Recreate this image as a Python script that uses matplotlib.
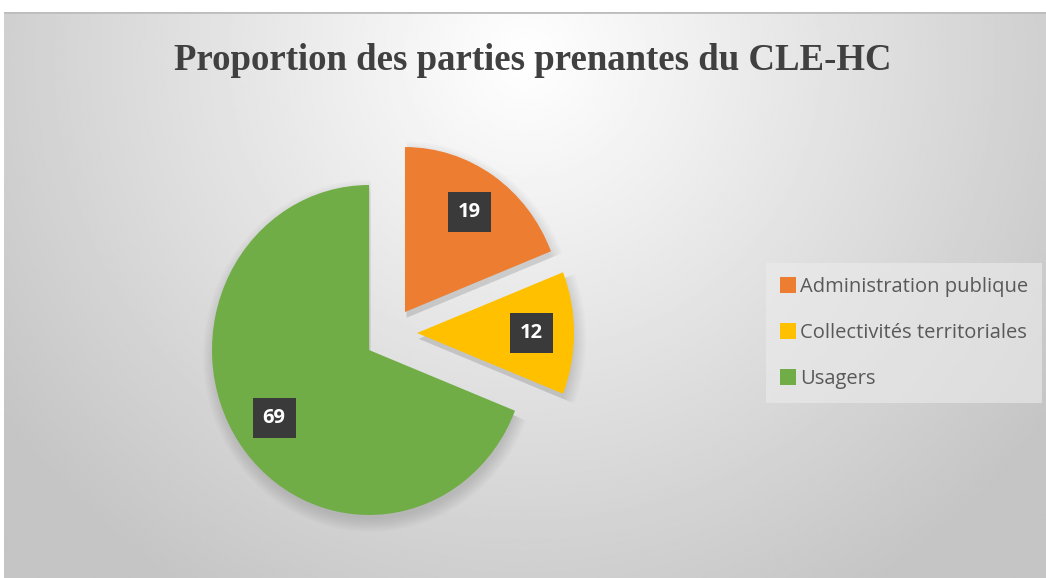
import numpy as np
import matplotlib
matplotlib.use("Agg")
import matplotlib.pyplot as plt
from matplotlib.patches import Wedge

# ---- data ----
categories = ["Administration publique", "Collectivités territoriales", "Usagers"]
values = [19, 12, 69]
colors = ["#ED7D31", "#FFC000", "#70AD47"]
title = "Proportion des parties prenantes du CLE-HC"

# ---- figure ----
W, H = 1046, 578
fig = plt.figure(figsize=(W / 100, H / 100), dpi=100, facecolor="white")

# chart-area background with radial gradient
x0 = 4
bg = fig.add_axes([x0 / W, 0, (W - x0) / W, (H - 12) / H])
bg.set_axis_off()
gx, gy = np.meshgrid(np.linspace(0, 1, 400), np.linspace(0, 1, 250))
cx, cy = 0.5, 0.08  # gy=0 top
d = np.sqrt(((gx - cx) / 0.58) ** 2 + ((gy - cy) / 1.05) ** 2)
val = np.clip(255 - 55 * d, 197, 255) / 255.0
bg.imshow(val, cmap="gray", vmin=0, vmax=1, aspect="auto",
          extent=[0, 1, 0, 1], origin="upper", interpolation="bilinear")
bg.set_xlim(0, 1)
bg.set_ylim(0, 1)
bg.axhline(1, color="#bdbdbd", lw=2)

# ---- pie ----
Rx, Ry = 157.0, 165.0     # radius in pixels (horizontal, vertical)
pcx, pcy = 369, 350       # pie center (pixels from top-left)
ax = fig.add_axes([0, 0, 1, 1])
ax.patch.set_alpha(0)

wedges, texts = ax.pie(values, colors=colors, startangle=90, counterclock=False,
                       labels=[str(v) for v in values], labeldistance=0.73,
                       wedgeprops=dict(linewidth=0, zorder=3))
ax.set_aspect("auto")
ax.set_xlim(-pcx / Rx, (W - pcx) / Rx)
ax.set_ylim(-(H - pcy) / Ry, pcy / Ry)
ax.set_axis_off()

# explosion offsets (data units, radius = 1)
offsets = [(0.229, 0.230), (0.306, 0.103), (0.0, 0.0)]
for w, t, (dx, dy) in zip(wedges, texts, offsets):
    w.set_center((dx, dy))
    # soft shadow
    for k in range(8):
        sh = Wedge((dx + 0.01, dy - 0.035), w.r * (0.99 + 0.011 * k), w.theta1, w.theta2,
                   fc="black", ec="none", alpha=0.014, zorder=1)
        ax.add_patch(sh)
    tx, ty = t.get_position()
    t.set_position((tx + dx, ty + dy))
    t.set_ha("center")
    t.set_va("center")
    t.set_color("white")
    t.set_fontsize(14.5)
    t.set_fontweight("bold")
    t.set_fontfamily("Open Sans")
    t.set_zorder(5)
    t.set_bbox(dict(boxstyle="square,pad=0.5", fc="#3a3a3a", ec="none"))

# ---- title ----
fig.text(533 / W, 1 - 70 / H, title, ha="center", va="baseline",
         fontsize=26.5, fontweight="bold", family="Liberation Serif", color="#404040")

# ---- legend ----
leg = fig.legend(wedges, categories, loc="center left",
                 bbox_to_anchor=(766 / W, 1 - 333 / H),
                 frameon=True, fancybox=False, facecolor="#ececec", edgecolor="none",
                 framealpha=0.6, handlelength=0.8, handleheight=0.8,
                 handletextpad=0.2, labelspacing=1.3, borderpad=0.7,
                 borderaxespad=0,
                 prop=dict(family="Open Sans", size=14.5))
for txt in leg.get_texts():
    txt.set_color("#595959")

fig.savefig("out.png", dpi=100, facecolor="white")
